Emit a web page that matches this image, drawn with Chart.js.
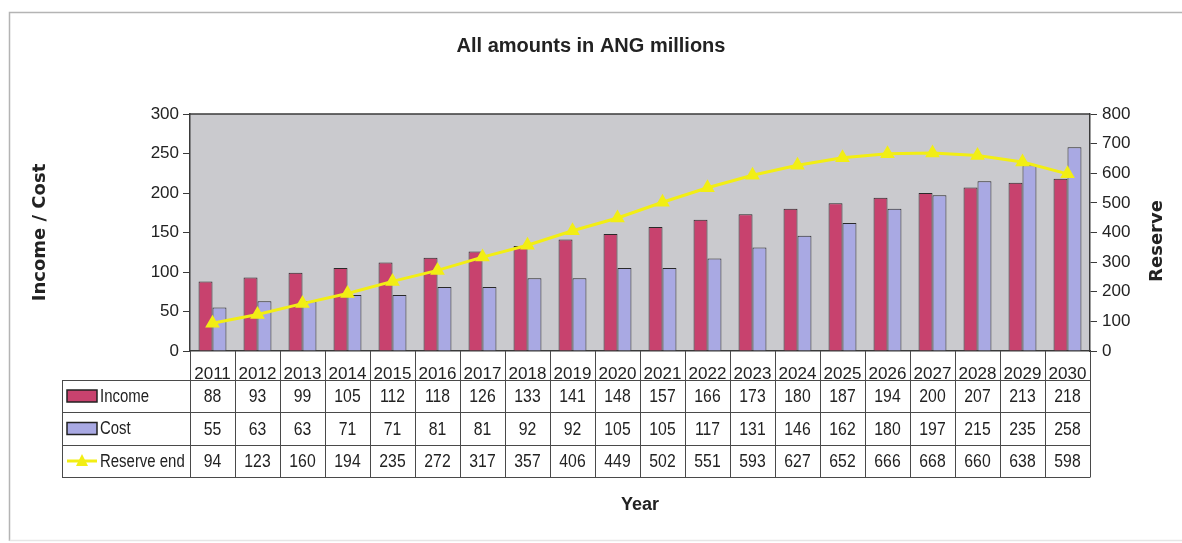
<!DOCTYPE html>
<html>
<head>
<meta charset="utf-8">
<script src="https://cdn.jsdelivr.net/npm/chart.js@4/dist/chart.umd.min.js"></script>
<style>
  html, body { margin: 0; padding: 0; background: #fff; }
  #wrap { width: 1182px; height: 543px; }
</style>
</head>
<body>
<div id="wrap"><canvas id="c" width="1182" height="543"></canvas></div>
<script>
const years = ['2011','2012','2013','2014','2015','2016','2017','2018','2019','2020','2021','2022','2023','2024','2025','2026','2027','2028','2029','2030'];
const income = [88, 93, 99, 105, 112, 118, 126, 133, 141, 148, 157, 166, 173, 180, 187, 194, 200, 207, 213, 218];
const cost = [55, 63, 63, 71, 71, 81, 81, 92, 92, 105, 105, 117, 131, 146, 162, 180, 197, 215, 235, 258];
const reserveEnd = [94, 123, 160, 194, 235, 272, 317, 357, 406, 449, 502, 551, 593, 627, 652, 666, 668, 660, 638, 598];
const seriesNames = ['Income', 'Cost', 'Reserve end'];
const leftTicks = [0, 50, 100, 150, 200, 250, 300];
const rightTicks = [0, 100, 200, 300, 400, 500, 600, 700, 800];

const SANS = "'Liberation Sans', Arial, sans-serif";
const WIDE = "'DejaVu Sans', 'Liberation Sans', sans-serif";
const INCOME_COLOR = '#C8426E';
const COST_COLOR = '#A9A9E3';
const RESERVE_COLOR = '#F2EE14';
const TEXT = '#222';
const NARROW_X = 0.83;

function narrowText(ctx, text, x, y, align) {
  ctx.save();
  ctx.translate(x, y);
  ctx.scale(NARROW_X, 1);
  ctx.textAlign = align || 'center';
  ctx.fillText(text, 0, 0);
  ctx.restore();
}

const framePlugin = {
  id: 'frame',
  beforeDraw(chart) {
    const {ctx, chartArea: a} = chart;
    ctx.save();
    ctx.fillStyle = '#fff';
    ctx.fillRect(0, 0, chart.width, chart.height);
    ctx.strokeStyle = '#b4b4b4';
    ctx.lineWidth = 1.5;
    ctx.beginPath();
    ctx.moveTo(9.5, 541); ctx.lineTo(9.5, 12.5); ctx.lineTo(1182, 12.5);
    ctx.stroke();
    ctx.strokeStyle = '#e6e6e6';
    ctx.beginPath(); ctx.moveTo(9.5, 540.5); ctx.lineTo(1182, 540.5); ctx.stroke();
    ctx.fillStyle = '#CACACE';
    ctx.fillRect(a.left, a.top, a.right - a.left, a.bottom - a.top);
    ctx.restore();
  },
  afterDatasetsDraw(chart) {
    const {ctx, chartArea: a} = chart;
    ctx.save();
    ctx.strokeStyle = '#3a3a3a';
    ctx.lineWidth = 1.5;
    ctx.beginPath();
    ctx.moveTo(a.left, a.top); ctx.lineTo(a.right, a.top);
    ctx.stroke();
    ctx.restore();
  }
};

const tablePlugin = {
  id: 'dataTable',
  afterDraw(chart) {
    const {ctx, chartArea: a, scales: {x}} = chart;
    const n = years.length;
    const w = (a.right - a.left) / n;
    const rowY = [a.bottom, 380, 412, 445, 477];
    const labelLeft = 62;
    ctx.save();
    ctx.strokeStyle = '#4a4a4a';
    ctx.lineWidth = 1;
    const line = (x1, y1, x2, y2) => { ctx.beginPath(); ctx.moveTo(x1, y1); ctx.lineTo(x2, y2); ctx.stroke(); };
    for (let r = 1; r < rowY.length; r++) line(labelLeft, rowY[r] + 0.5, a.right, rowY[r] + 0.5);
    for (let i = 0; i <= n; i++) {
      const xx = Math.round(a.left + i * w) + 0.5;
      line(xx, a.bottom, xx, rowY[4] + 0.5);
    }
    line(labelLeft + 0.5, rowY[1], labelLeft + 0.5, rowY[4] + 0.5);

    const rows = [income, cost, reserveEnd];
    ctx.fillStyle = TEXT;
    ctx.font = '19px ' + SANS;
    ctx.textBaseline = 'middle';
    rows.forEach((vals, r) => {
      const cy = (rowY[r + 1] + rowY[r + 2]) / 2 + 1;
      vals.forEach((v, i) => narrowText(ctx, String(v), x.getPixelForValue(i), cy, 'center'));
    });

    // legend keys in the label column
    const keyL = 67, keyR = 97;
    ctx.font = '18px ' + SANS;
    rows.forEach((vals, r) => {
      const cy = (rowY[r + 1] + rowY[r + 2]) / 2;
      const ds = chart.data.datasets.find(d => d.label === seriesNames[r]);
      if (r < 2) {
        ctx.fillStyle = ds.backgroundColor;
        ctx.fillRect(keyL, cy - 6, keyR - keyL, 12);
        ctx.strokeStyle = '#222';
        ctx.lineWidth = 1.5;
        ctx.strokeRect(keyL, cy - 6, keyR - keyL, 12);
      } else {
        ctx.strokeStyle = ds.borderColor;
        ctx.lineWidth = 3;
        line(keyL, cy, keyR, cy);
        ctx.fillStyle = ds.borderColor;
        ctx.beginPath();
        ctx.moveTo(82, cy - 7); ctx.lineTo(88, cy + 5); ctx.lineTo(76, cy + 5); ctx.closePath();
        ctx.fill();
      }
      ctx.fillStyle = TEXT;
      narrowText(ctx, seriesNames[r], keyR + 3, cy + 1, 'left');
    });

    // right axis title (reads bottom to top)
    ctx.save();
    ctx.translate(1157, 241);
    ctx.rotate(-Math.PI / 2);
    ctx.font = 'bold 18px ' + WIDE;
    ctx.textAlign = 'center';
    ctx.textBaseline = 'middle';
    ctx.fillStyle = TEXT;
    ctx.fillText('Reserve', 0, 0);
    ctx.restore();
    ctx.restore();
  }
};

new Chart(document.getElementById('c'), {
  data: {
    labels: years,
    datasets: [
      {
        type: 'line', label: seriesNames[2], data: reserveEnd, yAxisID: 'y1', order: 0,
        borderColor: RESERVE_COLOR, backgroundColor: RESERVE_COLOR, borderWidth: 3,
        pointStyle: 'triangle', pointRadius: 5.5, pointBackgroundColor: RESERVE_COLOR,
        pointBorderColor: RESERVE_COLOR, tension: 0
      },
      {
        type: 'bar', label: seriesNames[0], data: income, yAxisID: 'y', order: 1,
        backgroundColor: INCOME_COLOR, borderColor: '#2a2a2a', borderWidth: 1,
        categoryPercentage: 0.62, barPercentage: 1.0
      },
      {
        type: 'bar', label: seriesNames[1], data: cost, yAxisID: 'y', order: 1,
        backgroundColor: COST_COLOR, borderColor: '#2a2a2a', borderWidth: 1,
        categoryPercentage: 0.62, barPercentage: 1.0
      }
    ]
  },
  options: {
    responsive: false,
    animation: false,
    layout: { padding: 0 },
    plugins: {
      legend: { display: false },
      tooltip: { enabled: false },
      title: {
        display: true,
        text: 'All amounts in ANG millions',
        color: TEXT,
        font: { family: SANS, size: 20, weight: 'bold' },
        padding: { top: 34, bottom: 56 }
      }
    },
    scales: {
      x: {
        grid: { display: false },
        border: { display: true, color: '#3a3a3a', width: 1.5 },
        ticks: { color: TEXT, font: { family: SANS, size: 17 }, padding: 5, maxRotation: 0, autoSkip: false },
        title: {
          display: true, text: 'Year', color: TEXT,
          font: { family: SANS, size: 18, weight: 'bold' },
          padding: { top: 0, bottom: 27 }
        },
        afterFit(s) { s.height = 192; }
      },
      y: {
        position: 'left',
        min: 0, max: 300,
        afterBuildTicks(s) { s.ticks = leftTicks.map(v => ({ value: v })); },
        grid: { drawOnChartArea: false, drawTicks: true, tickLength: 7, color: '#3a3a3a' },
        border: { display: true, color: '#3a3a3a', width: 1.5 },
        ticks: { color: TEXT, font: { family: SANS, size: 17 }, padding: 4 },
        title: {
          display: true, text: 'Income / Cost', color: TEXT,
          font: { family: WIDE, size: 18, weight: 'bold' },
          padding: { top: 29.2, bottom: 0 }
        },
        afterFit(s) { s.width = 190; }
      },
      y1: {
        position: 'right',
        min: 0, max: 800,
        afterBuildTicks(s) { s.ticks = rightTicks.map(v => ({ value: v })); },
        grid: { drawOnChartArea: false, drawTicks: true, tickLength: 7, color: '#3a3a3a' },
        border: { display: true, color: '#3a3a3a', width: 1.5 },
        ticks: { color: TEXT, font: { family: SANS, size: 17 }, padding: 5 },
        title: { display: false },
        afterFit(s) { s.width = 92; }
      }
    }
  },
  plugins: [framePlugin, tablePlugin]
});
</script>
</body>
</html>
